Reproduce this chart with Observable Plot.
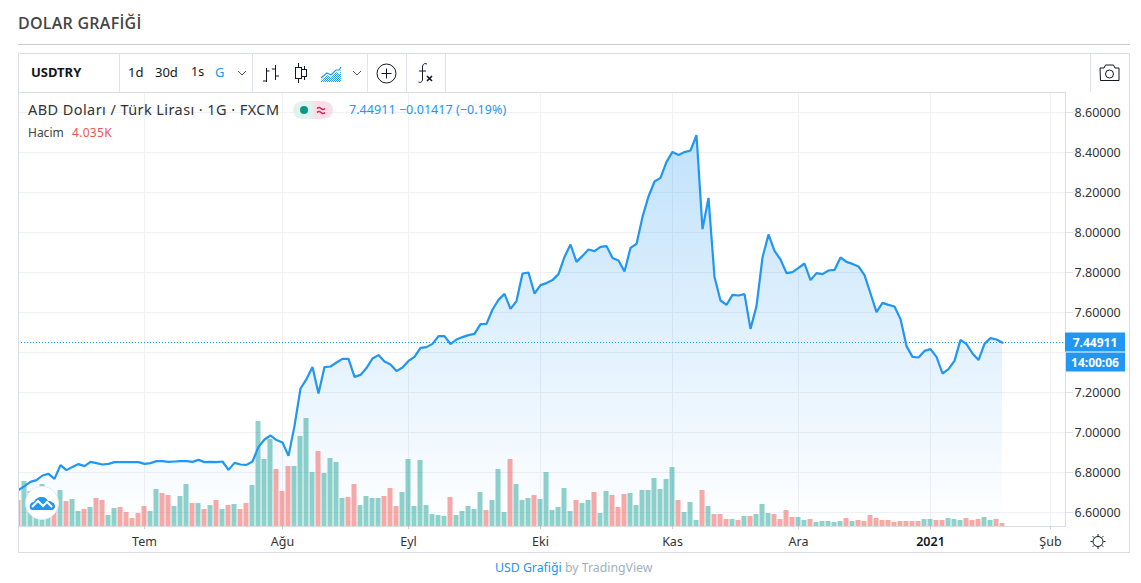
<!DOCTYPE html>
<html lang="tr">
<head>
<meta charset="utf-8">
<script src="https://cdn.jsdelivr.net/npm/d3@7"></script>
<script src="https://cdn.jsdelivr.net/npm/@observablehq/plot@0.6"></script>
<style>
html,body{margin:0;padding:0;background:#fff;width:1141px;height:583px;overflow:hidden;font-family:"Noto Sans",sans-serif;color:#131722}
.abs{position:absolute;white-space:nowrap;line-height:1}
.dv{position:absolute;top:54px;height:38px;width:1px;background:#e0e3eb}
#chart{position:absolute;left:18px;top:92px}
#chart svg{display:block;background:transparent}
</style>
</head>
<body>
<div class="abs" style="left:18px;top:15px;font-family:'Open Sans';font-size:16px;font-weight:600;letter-spacing:.25px;color:#454545;">DOLAR GRAFİĞİ</div>
<div class="abs" style="left:18px;top:44px;width:1112px;height:1px;background:#ccc"></div>
<div class="abs" style="left:18px;top:53px;width:1110px;height:498px;border:1px solid #dadde3"></div>
<div class="dv" style="left:119px"></div><div class="dv" style="left:252px"></div><div class="dv" style="left:367px"></div><div class="dv" style="left:406px"></div><div class="dv" style="left:445px"></div><div class="dv" style="left:1090px"></div>
<div class="abs" style="left:31px;top:66px;font-size:13px;font-weight:700;">USDTRY</div>
<div class="abs" style="left:128px;top:66px;font-size:13px;">1d</div>
<div class="abs" style="left:155px;top:66px;font-size:13px;">30d</div>
<div class="abs" style="left:191px;top:66px;font-size:12.500px;">1s</div>
<div class="abs" style="left:215px;top:66px;font-size:13px;color:#2196f3">G</div>
<svg class="abs" style="left:0;top:0" width="1141" height="583" fill="none" stroke="#131722" stroke-width="1">
  <defs><pattern id="hatch" width="2" height="2" patternUnits="userSpaceOnUse"><rect width="1" height="1" fill="#2196f3" stroke="none"/><rect x="1" y="1" width="1" height="1" fill="#2196f3" stroke="none"/></pattern></defs>
  <path d="M238 71l4 4 4-4M353 71l4 4 4-4" stroke="#555"/>
  <path d="M266.500 68v14M263 81h3.500M266.500 71h3M275.500 65v15M272 69h3.500M275.500 76h3.500"/>
  <path d="M298.500 63v4M298.500 79v4M304.500 66v3M304.500 77v3"/><rect x="295.500" y="67.500" width="6" height="11"/><rect x="301.500" y="69.500" width="5" height="7"/>
  <path d="M321 80l6-5 4 2 5-5 4 2 1-6v14h-20z" fill="url(#hatch)" stroke="none"/>
  <path d="M321 78l6-5 4 2 5-5 3 0 2-3" stroke="#2196f3" stroke-width="1.200"/>
  <circle cx="386.500" cy="73.500" r="9.500"/><path d="M386.500 68.500v10M381.500 73.500h10"/>
  <path d="M427 64c-3-1-4 0-4.500 3v12c0 3-2 4-4 3M419 71h7"/><path d="M427 76l5 5M432 76l-5 5" stroke-width="1.600"/>
  <path d="M1100 68h4l1.500-3h8l1.500 3h4v12.500h-18.500z" stroke-linejoin="round"/><circle cx="1109.500" cy="74" r="4"/>
  <circle cx="1098" cy="541.500" r="5"/><path d="M1098 534v2M1098 547v2M1090.500 541.500h2M1103.500 541.500h2M1092.700 536.200l1.500 1.500M1101.800 545.300l1.500 1.500M1092.700 546.800l1.500-1.500M1101.800 537.700l1.500-1.500"/>
</svg>
<div id="chart"></div>
<div class="abs" style="left:28px;top:102px;font-size:14.500px;letter-spacing:.42px;color:#333">ABD Doları / Türk Lirası · 1G · FXCM</div>
<svg class="abs" style="left:293px;top:101px" width="41" height="18"><path d="M9 0h11v18h-11a9 9 0 0 1 0-18z" fill="#e0f3ef"/><path d="M20 0h11a9 9 0 0 1 0 18h-11z" fill="#fadfe8"/><circle cx="11" cy="9" r="4" fill="#089981"/><path d="M24 7.500q2-2 4 0t4 0M24 11.500q2-2 4 0t4 0" fill="none" stroke="#d81b60" stroke-width="1.300"/></svg>
<div class="abs" style="left:349px;top:104px;font-size:12.500px;letter-spacing:.05px;color:#2196f3">7.44911 −0.01417 (−0.19%)</div>
<div class="abs" style="left:28px;top:127px;font-size:12px;color:#444">Hacim</div>
<div class="abs" style="left:72px;top:127px;font-size:12px;letter-spacing:.3px;color:#ef5350">4.035K</div>
<svg class="abs" style="left:24px;top:485px" width="36" height="36"><circle cx="18" cy="18" r="16.500" fill="#fff" stroke="#e6e8ec" stroke-width="1"/><path d="M6 23c-1-3 1-6 4-6 1-3 4-5 8-5 3 0 5 2 6 4 3 0 7 2 7 5s-2 4-4 4H9c-2 0-3-1-3-2z" fill="#2196f3"/><path d="M8 22l6-6 5 5 4-4 5 5" fill="none" stroke="#fff" stroke-width="2"/></svg>
<div class="abs" style="left:495px;top:562px;font-size:12.300px;color:#2196f3">USD Grafiği <span style="color:#9db2bd">by TradingView</span></div>

<script>
const priceTicks = [6.6, 6.8, 7.0, 7.2, 7.4, 7.6, 7.8, 8.0, 8.2, 8.4, 8.6];
const hiddenTick = 7.4;
const monthIndex = [21, 44, 65, 87, 109, 130, 172];
const monthLabel = ["Tem", "Ağu", "Eyl", "Eki", "Kas", "Ara", "Şub"];
const yearIndex = [152];
const yearLabel = ["2021"];
const lastPrice = 7.44911;
const countdown = "14:00:06";

const price = [
6.712,6.732,6.753,6.762,6.785,6.793,6.768,6.837,6.812,6.828,
6.842,6.832,6.853,6.847,6.840,6.843,6.852,6.852,6.852,6.852,
6.852,6.843,6.847,6.857,6.857,6.853,6.855,6.857,6.857,6.853,
6.863,6.852,6.853,6.852,6.855,6.813,6.848,6.840,6.838,6.855,
6.928,6.965,6.985,6.962,6.950,6.883,7.033,7.220,7.267,7.328,
7.195,7.327,7.330,7.350,7.368,7.368,7.278,7.288,7.322,7.370,
7.387,7.355,7.340,7.307,7.325,7.358,7.378,7.423,7.427,7.443,
7.482,7.482,7.442,7.465,7.477,7.487,7.493,7.542,7.543,7.615,
7.663,7.693,7.618,7.657,7.795,7.800,7.695,7.737,7.747,7.762,
7.792,7.878,7.940,7.853,7.883,7.915,7.907,7.928,7.932,7.873,
7.860,7.805,7.923,7.943,8.078,8.180,8.255,8.273,8.353,8.403,
8.388,8.402,8.410,8.487,8.017,8.173,7.778,7.660,7.638,7.688,
7.685,7.692,7.518,7.632,7.875,7.990,7.908,7.865,7.797,7.802,
7.823,7.845,7.762,7.797,7.792,7.810,7.813,7.875,7.853,7.843,
7.830,7.787,7.695,7.602,7.648,7.638,7.630,7.567,7.432,7.378,
7.375,7.408,7.417,7.378,7.295,7.317,7.358,7.463,7.442,7.395,
7.362,7.443,7.472,7.465,7.44911];

const volume = [
35.0,60.5,47.1,39.0,56.5,36.3,35.0,48.4,33.6,36.3,
20.2,22.9,25.6,37.7,35.0,14.8,24.2,25.6,18.8,10.8,
17.5,26.9,20.2,49.8,44.4,41.7,26.9,40.4,56.5,30.9,
30.9,22.9,28.2,35.0,22.9,28.2,29.6,22.9,30.9,55.1,
141.2,90.1,117.0,76.7,47.1,80.7,80.7,121.1,145.3,72.6,
100.9,71.3,91.5,86.1,37.7,39.0,56.5,28.2,40.4,37.7,
37.7,40.4,51.1,26.9,45.7,90.1,26.9,88.8,28.2,16.1,
14.8,13.5,39.0,14.8,20.2,26.9,22.9,45.7,21.5,35.0,
76.7,18.8,90.1,56.5,35.0,37.7,41.7,36.3,72.6,21.5,
25.6,51.1,20.2,35.0,30.9,35.0,45.7,17.5,47.1,41.7,
25.6,43.0,44.4,28.2,48.4,48.4,64.6,49.8,63.2,79.4,
35.0,18.8,32.3,8.1,48.4,26.9,16.1,16.1,9.4,9.4,
8.1,13.5,13.5,16.1,29.6,17.5,16.1,9.4,21.5,12.1,
12.1,8.1,9.4,5.4,6.7,6.7,5.4,6.7,10.8,6.7,
8.1,6.7,14.8,10.8,8.1,8.1,5.4,6.7,6.7,6.7,
6.7,9.4,9.4,8.1,8.1,10.8,9.4,8.1,10.8,8.1,
9.4,12.1,8.1,9.4,4.035];

const rising = [
0,1,1,1,1,1,0,1,0,1,
1,0,1,0,0,1,1,0,0,0,
0,0,1,1,0,0,1,1,1,0,
1,0,1,0,1,0,1,0,0,1,
1,1,1,0,0,0,1,1,1,1,
0,1,1,1,1,0,0,1,1,1,
1,0,0,0,1,1,1,1,1,1,
1,1,0,1,1,1,1,1,0,1,
1,1,0,1,1,1,0,1,1,1,
1,1,1,0,1,1,0,1,1,0,
0,0,1,1,1,1,1,1,1,1,
0,1,1,1,0,1,0,0,0,1,
0,1,0,1,1,1,0,0,0,0,
1,1,0,1,1,1,1,1,0,1,
0,0,0,0,0,0,0,0,0,0,
0,1,1,0,0,1,1,1,0,0,
0,1,1,0,0];

const rows = price.map((p, i) => ({i, price: p, volume: volume[i], up: rising[i] === 1}));

const xDomain = [0, 174.5];
const yDomain = [6.53, 8.7];
const volumeToY = d3.scaleLinear([0, 583.7], yDomain);
const barHalf = 2.5 / 6;
const barMark = (sel, fill) => Plot.rectY(rows.filter(sel), {
  x1: d => d.i - barHalf, x2: d => d.i + barHalf,
  y1: yDomain[0], y2: d => volumeToY(d.volume), fill, clip: true
});

function gradientDefs() {
  const s = d3.create("svg:defs");
  const g = s.append("linearGradient").attr("id","areaFade").attr("x1",0).attr("x2",0).attr("y1",0).attr("y2",1);
  g.append("stop").attr("offset","0%").attr("stop-color","#2196f3").attr("stop-opacity",0.28);
  g.append("stop").attr("offset","100%").attr("stop-color","#2196f3").attr("stop-opacity",0);
  return s.node();
}

function priceBadges(index, scales, values, dims) {
  const g = d3.create("svg:g");
  const x0 = dims.width - dims.marginRight;
  const y0 = Math.round(scales.y(lastPrice));
  const font = "Noto Sans";
  g.append("rect").attr("x", x0).attr("y", y0 - 9.5).attr("width", 60).attr("height", 19).attr("fill", "#2196f3");
  g.append("rect").attr("x", x0 + 1).attr("y", y0 + 10.5).attr("width", 59).attr("height", 19).attr("fill", "#2196f3");
  g.append("text").attr("x", x0 + 30).attr("y", y0 + 4.5).attr("text-anchor","middle").attr("fill","#fff")
    .attr("font-family",font).attr("font-size",12).attr("font-weight",700).text(lastPrice.toFixed(5));
  g.append("text").attr("x", x0 + 30).attr("y", y0 + 24.5).attr("text-anchor","middle").attr("fill","#fff")
    .attr("font-family",font).attr("font-size",12).attr("font-weight",700).text(countdown);
  return g.node();
}

const chart = Plot.plot({
  width: 1112, height: 460,
  marginLeft: 0, marginRight: 65, marginTop: 0, marginBottom: 26,
  style: {fontFamily: "Noto Sans", fontSize: "12.5px", background: "transparent", overflow: "visible"},
  x: {type: "linear", domain: xDomain, axis: null},
  y: {type: "linear", domain: yDomain, axis: null},
  marks: [
    gradientDefs,
    Plot.ruleY(priceTicks, {stroke: "#eff1f4", strokeWidth: 1}),
    Plot.ruleX(monthIndex.concat(yearIndex), {stroke: "#eff1f4", strokeWidth: 1}),
    Plot.areaY(rows, {x: "i", y1: yDomain[0], y2: "price", fill: "url(#areaFade)", clip: true}),
    barMark(d => d.up, "rgba(0,150,136,0.44)"),
    barMark(d => !d.up, "rgba(239,83,80,0.5)"),
    Plot.line(rows, {x: "i", y: "price", stroke: "#2196f3", strokeWidth: 2.2, clip: true, curve: "linear", strokeLinejoin: "miter"}),
    Plot.ruleY([lastPrice], {stroke: "#2196f3", strokeWidth: 1, strokeDasharray: "1,2", shapeRendering: "crispEdges"}),
    Plot.frame({stroke: "#dadde3"}),
    Plot.axisY(priceTicks.filter(t => t !== hiddenTick), {anchor: "right", tickSize: 7, tickPadding: 2, tickFormat: d => d.toFixed(5), stroke: "#e0e3eb", fill: "#333", label: null}),
    Plot.axisX(monthIndex, {anchor: "bottom", tickSize: 3, tickPadding: 8, tickFormat: d => monthLabel[monthIndex.indexOf(d)], stroke: "#c8cbd2", fill: "#333", label: null}),
    Plot.axisX(yearIndex, {anchor: "bottom", tickSize: 3, tickPadding: 8, tickFormat: d => yearLabel[yearIndex.indexOf(d)], stroke: "#c8cbd2", fill: "#131722", fontWeight: 600, label: null}),
    priceBadges
  ]
});
document.getElementById("chart").append(chart);
</script>
</body>
</html>
